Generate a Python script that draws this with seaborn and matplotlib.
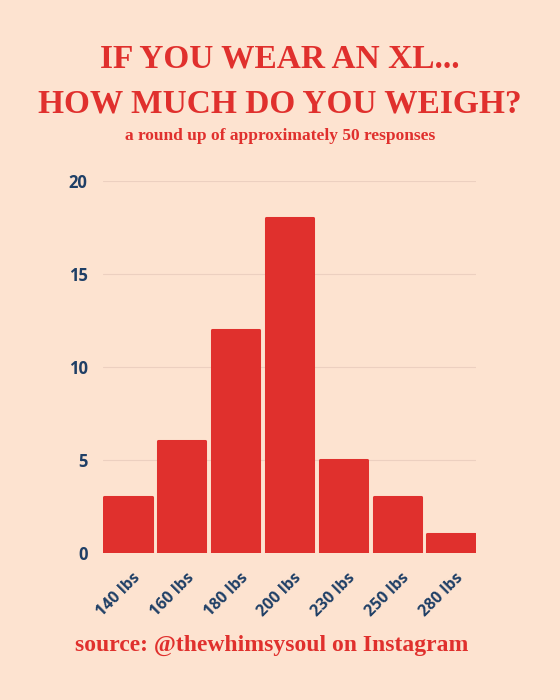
import seaborn as sns
import matplotlib.pyplot as plt
import matplotlib.transforms as mtrans
import pandas as pd

# responses per weight bucket
weights = ['140 lbs', '160 lbs', '180 lbs', '200 lbs', '230 lbs', '250 lbs', '280 lbs']
counts = [3, 6, 12, 18, 5, 3, 1]
y_ticks = [0, 5, 10, 15, 20]

BG = '#fde3d0'
RED = '#e0302d'
NAVY = '#1f3f66'

df = pd.DataFrame({'weight': weights, 'count': counts})

sns.set_theme(style='white')
plt.rcParams['font.family'] = ['Open Sans', 'DejaVu Sans']

fig = plt.figure(figsize=(5.6, 7), dpi=100, facecolor=BG)
ax = fig.add_axes([0.184, 0.21, 0.666, 0.531], facecolor=BG)

sns.barplot(data=df, x='weight', y='count', color=RED, saturation=1,
            width=0.88, edgecolor=RED, linewidth=2.2, ax=ax)
# softly rounded corners like the original
for p in ax.patches:
    p.set_joinstyle('round')

ax.set_ylim(0, 20)
ax.set_xlim(-0.46, 6.46)
ax.set_yticks(y_ticks)
ax.yaxis.grid(True, color='#ecd0c0', linewidth=0.8)
ax.set_axisbelow(True)
for s in ax.spines.values():
    s.set_visible(False)
ax.set_xlabel('')
ax.set_ylabel('')
ax.tick_params(axis='y', length=0, pad=11, labelsize=12, labelcolor=NAVY)
ax.tick_params(axis='x', length=0, pad=12, labelsize=11.5, labelcolor=NAVY)
for lbl in ax.get_yticklabels():
    lbl.set_fontweight('bold')

# x labels sit a bit right of the bar centre in the original
shift = mtrans.ScaledTranslation(3 / 72, 0, fig.dpi_scale_trans)
for lbl in ax.get_xticklabels():
    lbl.set_fontweight('bold')
    lbl.set_rotation(45)
    lbl.set_ha('right')
    lbl.set_rotation_mode('anchor')
    lbl.set_transform(lbl.get_transform() + shift)

serif = ['Liberation Serif', 'DejaVu Serif']
fig.text(0.5, 0.915, 'IF YOU WEAR AN XL...', ha='center', va='center',
         fontsize=24, fontweight='bold', color=RED, family=serif)
fig.text(0.5, 0.851, 'HOW MUCH DO YOU WEIGH?', ha='center', va='center',
         fontsize=24, fontweight='bold', color=RED, family=serif)
fig.text(0.5, 0.805, 'a round up of approximately 50 responses', ha='center', va='center',
         fontsize=12.5, fontweight='bold', color=RED, family=serif)
fig.text(0.485, 0.078, 'source: @thewhimsysoul on Instagram', ha='center', va='center',
         fontsize=17, fontweight='bold', color=RED, family=serif)

fig.savefig('out.png', dpi=100, facecolor=BG)
